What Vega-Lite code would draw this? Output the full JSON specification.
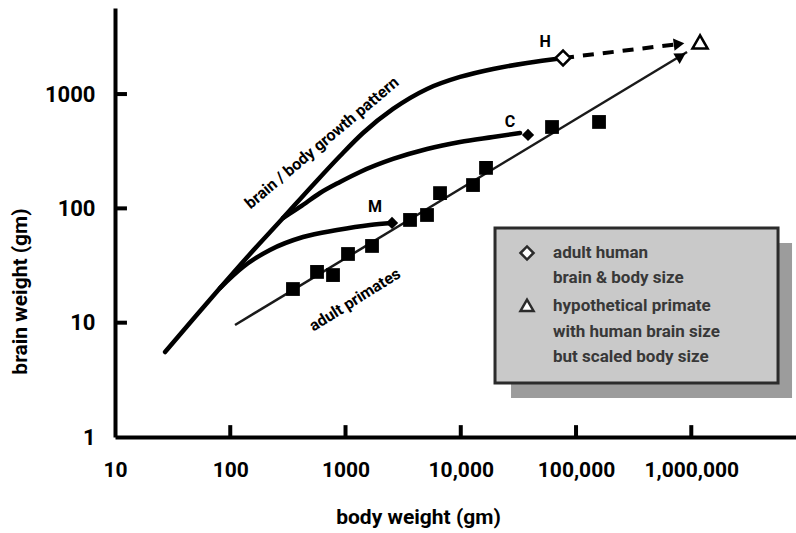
{
  "$schema": "https://vega.github.io/schema/vega-lite/v6.json",
  "autosize": "none",
  "width": 681,
  "height": 429,
  "padding": {"left": 115, "top": 8, "right": 0, "bottom": 96},
  "background": "white",
  "config": {
    "view": {"stroke": null},
    "font": "Roboto, Liberation Sans, sans-serif"
  },
  "datasets": {
    "squares": [
      {"bw": 350, "br": 19.7}, {"bw": 566, "br": 27.8}, {"bw": 779, "br": 26.1},
      {"bw": 1051, "br": 39.9}, {"bw": 1698, "br": 46.9}, {"bw": 3628, "br": 79.2},
      {"bw": 5094, "br": 87.5}, {"bw": 6607, "br": 136}, {"bw": 12770, "br": 160},
      {"bw": 16560, "br": 226}, {"bw": 61900, "br": 515}, {"bw": 158300, "br": 570}
    ],
    "curves": [
      {"curve": "H", "bw": 27.2, "br": 5.54}, {"curve": "H", "bw": 49.4, "br": 11.22},
      {"curve": "H", "bw": 81.5, "br": 20.1}, {"curve": "H", "bw": 148.4, "br": 39.9},
      {"curve": "H", "bw": 287, "br": 82.4}, {"curve": "H", "bw": 522, "br": 160.2},
      {"curve": "H", "bw": 896, "br": 287.3}, {"curve": "H", "bw": 1418, "br": 456.7},
      {"curve": "H", "bw": 2583, "br": 740.7}, {"curve": "H", "bw": 5096, "br": 1108},
      {"curve": "H", "bw": 9851, "br": 1411}, {"curve": "H", "bw": 19050, "br": 1658},
      {"curve": "H", "bw": 37570, "br": 1871}, {"curve": "H", "bw": 77150, "br": 2069},
      {"curve": "C", "bw": 287, "br": 82.4}, {"curve": "C", "bw": 403, "br": 102.9},
      {"curve": "C", "bw": 601, "br": 136.3}, {"curve": "C", "bw": 896, "br": 170.2},
      {"curve": "C", "bw": 1336, "br": 208.2}, {"curve": "C", "bw": 2583, "br": 270.5},
      {"curve": "C", "bw": 5096, "br": 330.9}, {"curve": "C", "bw": 9851, "br": 381},
      {"curve": "C", "bw": 19050, "br": 421.4}, {"curve": "C", "bw": 32680, "br": 456.7},
      {"curve": "M", "bw": 81.5, "br": 20.1}, {"curve": "M", "bw": 129, "br": 30.7},
      {"curve": "M", "bw": 221, "br": 43.3}, {"curve": "M", "bw": 428, "br": 56.2},
      {"curve": "M", "bw": 844, "br": 64.7}, {"curve": "M", "bw": 1631, "br": 71.6},
      {"curve": "M", "bw": 2532, "br": 74.5}
    ],
    "regression": [{"bw": 110, "br": 9.55}, {"bw": 918800, "br": 2335}],
    "dashed": [{"bw": 77150, "br": 2069}, {"bw": 790000, "br": 2743}],
    "filledDiamonds": [{"bw": 38320, "br": 438.7}, {"bw": 2532, "br": 74.5}],
    "human": [{"bw": 77150, "br": 2069}],
    "hypo": [{"bw": 1191000, "br": 2857}],
    "regArrow": [{"bw": 815000, "br": 2154}],
    "dashArrow": [{"bw": 783000, "br": 2743}],
    "axisMarks": [
      {"x1": 96.08, "x2": 104.08, "y1": 1, "y2": 1.27},
      {"x1": 960.8, "x2": 1040.8, "y1": 1, "y2": 1.27},
      {"x1": 9608, "x2": 10408, "y1": 1, "y2": 1.27},
      {"x1": 96080, "x2": 104080, "y1": 1, "y2": 1.27},
      {"x1": 960800, "x2": 1040800, "y1": 1, "y2": 1.27},
      {"x1": 10, "x2": 12.7, "y1": 9.605, "y2": 10.411},
      {"x1": 10, "x2": 12.7, "y1": 96.05, "y2": 104.11},
      {"x1": 10, "x2": 12.7, "y1": 960.5, "y2": 1041.1}
    ],
    "letters": [
      {"label": "H", "bw": 53830, "br": 2857},
      {"label": "C", "bw": 26750, "br": 570},
      {"label": "M", "bw": 1803, "br": 102.9}
    ],
    "shadow": [{"x1": 27290, "x2": 7482000, "y1": 49.8, "y2": 2.19}],
    "box": [{"x1": 19820, "x2": 5657000, "y1": 67.4, "y2": 2.97}],
    "legendText": [
      {"t": "adult human", "bw": 63160, "br": 40.7},
      {"t": "brain & body size", "bw": 63160, "br": 24.6},
      {"t": "hypothetical primate", "bw": 63160, "br": 14.0},
      {"t": "with human brain size", "bw": 63160, "br": 8.29},
      {"t": "but scaled body size", "bw": 63160, "br": 5.01}
    ],
    "legendDiamond": [{"bw": 37570, "br": 40.7}],
    "legendTriangle": [{"bw": 37570, "br": 14.2}]
  },
  "encoding": {
    "x": {
      "field": "bw", "type": "quantitative",
      "scale": {"type": "log", "domain": [10, 8100000], "nice": false},
      "axis": {
        "title": "body weight (gm)",
        "values": [10, 100, 1000, 10000, 100000, 1000000],
        "labelExpr": "datum.value >= 10000 ? format(datum.value, ',') : format(datum.value, 'd')",
        "grid": false, "ticks": false,
        "domainColor": "black", "domainWidth": 4,
        "labelFontSize": 21, "labelFontWeight": "bold", "labelColor": "black",
        "labelPadding": 22, "labelFlush": false, "labelOverlap": false,
        "titleFontSize": 21, "titleFontWeight": "bold", "titleColor": "black",
        "titleX": 303, "titleY": 80, "titleBaseline": "middle"
      }
    },
    "y": {
      "field": "br", "type": "quantitative",
      "scale": {"type": "log", "domain": [1, 5660], "nice": false},
      "axis": {
        "title": "brain weight (gm)",
        "values": [1, 10, 100, 1000],
        "labelExpr": "format(datum.value, 'd')",
        "grid": false, "ticks": false,
        "domainColor": "black", "domainWidth": 4,
        "labelFontSize": 22, "labelFontWeight": "bold", "labelColor": "black",
        "labelPadding": 20, "labelFlush": false, "labelOverlap": false,
        "titleFontSize": 21, "titleFontWeight": "bold", "titleColor": "black",
        "titleX": -95, "titleY": 283, "titleBaseline": "middle", "titleAngle": -90
      }
    }
  },
  "layer": [
    {
      "data": {"name": "shadow"},
      "mark": {"type": "rect", "fill": "#9c9c9c"},
      "encoding": {
        "x": {"field": "x1", "type": "quantitative"},
        "x2": {"field": "x2"},
        "y": {"field": "y1", "type": "quantitative"},
        "y2": {"field": "y2"}
      }
    },
    {
      "data": {"name": "box"},
      "mark": {"type": "rect", "fill": "#c9c9c9", "stroke": "#2b2b2b", "strokeWidth": 3},
      "encoding": {
        "x": {"field": "x1", "type": "quantitative"},
        "x2": {"field": "x2"},
        "y": {"field": "y1", "type": "quantitative"},
        "y2": {"field": "y2"}
      }
    },
    {
      "data": {"name": "axisMarks"},
      "mark": {"type": "rect", "fill": "black"},
      "encoding": {
        "x": {"field": "x1", "type": "quantitative"},
        "x2": {"field": "x2"},
        "y": {"field": "y1", "type": "quantitative"},
        "y2": {"field": "y2"}
      }
    },
    {
      "data": {"name": "curves"},
      "mark": {"type": "line", "color": "black", "strokeWidth": 4.5, "interpolate": "monotone", "strokeCap": "round"},
      "encoding": {"detail": {"field": "curve"}}
    },
    {
      "data": {"name": "regression"},
      "mark": {"type": "line", "color": "#1a1a1a", "strokeWidth": 2.5},
      "encoding": {}
    },
    {
      "data": {"name": "dashed"},
      "mark": {"type": "line", "color": "black", "strokeWidth": 4, "strokeDash": [11, 9]},
      "encoding": {}
    },
    {
      "data": {"name": "regArrow"},
      "mark": {"type": "point", "shape": "triangle-right", "filled": true, "color": "black", "opacity": 1, "size": 150, "angle": -31}
    },
    {
      "data": {"name": "dashArrow"},
      "mark": {"type": "point", "shape": "triangle-right", "filled": true, "color": "black", "opacity": 1, "size": 150, "angle": -7}
    },
    {
      "data": {"name": "squares"},
      "mark": {"type": "point", "shape": "square", "filled": true, "color": "black", "opacity": 1, "size": 190}
    },
    {
      "data": {"name": "filledDiamonds"},
      "mark": {"type": "point", "shape": "diamond", "filled": true, "color": "black", "opacity": 1, "size": 150}
    },
    {
      "data": {"name": "human"},
      "mark": {"type": "point", "shape": "diamond", "filled": true, "fill": "white", "stroke": "black", "strokeWidth": 2.5, "opacity": 1, "size": 220}
    },
    {
      "data": {"name": "hypo"},
      "mark": {"type": "point", "shape": "triangle-up", "filled": true, "fill": "white", "stroke": "black", "strokeWidth": 2.5, "opacity": 1, "size": 230}
    },
    {
      "data": {"name": "letters"},
      "mark": {"type": "text", "fontSize": 16, "fontWeight": "bold", "color": "black", "align": "center", "baseline": "middle"},
      "encoding": {"text": {"field": "label"}}
    },
    {
      "data": {"values": [{"t": "brain / body growth pattern", "bw": 625, "br": 373.5}]},
      "mark": {"type": "text", "fontSize": 16, "fontWeight": "bold", "color": "black", "align": "center", "baseline": "middle", "angle": -40},
      "encoding": {"text": {"field": "t"}}
    },
    {
      "data": {"values": [{"t": "adult primates", "bw": 1209, "br": 15.8}]},
      "mark": {"type": "text", "fontSize": 16, "fontWeight": "bold", "color": "black", "align": "center", "baseline": "middle", "angle": -32},
      "encoding": {"text": {"field": "t"}}
    },
    {
      "data": {"name": "legendDiamond"},
      "mark": {"type": "point", "shape": "diamond", "filled": true, "fill": "white", "stroke": "#2b2b2b", "strokeWidth": 2.5, "opacity": 1, "size": 170}
    },
    {
      "data": {"name": "legendTriangle"},
      "mark": {"type": "point", "shape": "triangle-up", "filled": true, "fill": "white", "stroke": "#2b2b2b", "strokeWidth": 2.5, "opacity": 1, "size": 170}
    },
    {
      "data": {"name": "legendText"},
      "mark": {"type": "text", "fontSize": 17, "fontWeight": "bold", "color": "#383838", "align": "left", "baseline": "middle"},
      "encoding": {"text": {"field": "t"}}
    }
  ]
}
